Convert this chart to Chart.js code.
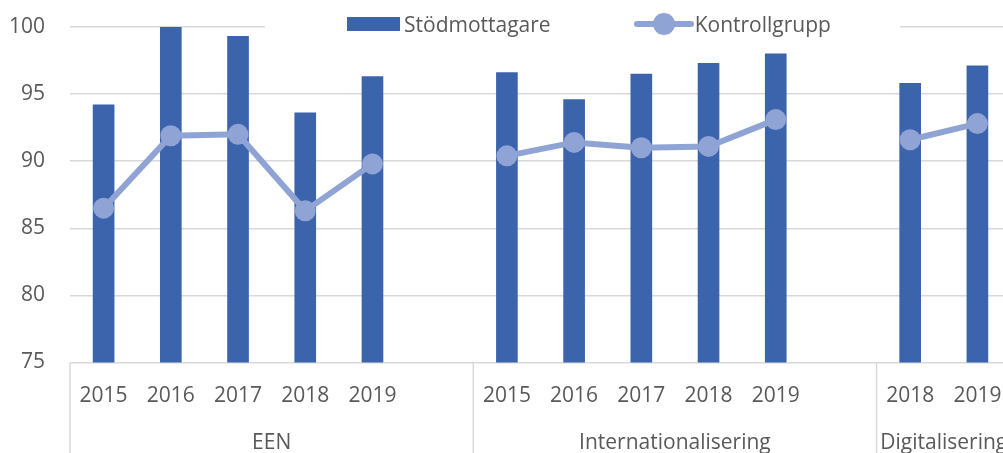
<!DOCTYPE html>
<html>
<head>
<meta charset="utf-8">
<script src="https://cdn.jsdelivr.net/npm/chart.js@4"></script>
<style>
  html, body { margin: 0; padding: 0; overflow: hidden; background: #fff; }
  #wrap { position: relative; width: 1011px; height: 453px; overflow: hidden; }
  #chart { display: block; width: 1011px; height: 453px; }
  #legend {
    position: absolute; left: 265px; top: 11px; width: 635px; height: 26px;
    background: #fff; display: flex; align-items: center; padding-left: 82px;
    box-sizing: border-box; font-family: 'Open Sans', sans-serif; font-size: 21px; color: #595959;
  }
  .item { display: flex; align-items: center; white-space: nowrap; }
  .box { width: 53px; height: 14px; margin-right: 4px; }
  .linekey { position: relative; width: 60px; height: 22px; margin-right: 1px; }
  .linekey .ln { position: absolute; left: 0; right: 0; top: 8px; height: 6px; border-radius: 3px; }
  .linekey .dot { position: absolute; left: 19px; top: 0; width: 22px; height: 22px; border-radius: 50%; }
</style>
</head>
<body>
<div id="wrap">
  <canvas id="chart" width="1011" height="453"></canvas>
  <div id="legend"></div>
</div>
<script>
// categories
const groups = ['EEN', 'Internationalisering', 'Digitalisering'];
const groupSizes = [6, 6, 2]; // number of slots in each group (incl. the empty spacer)
const years = ['2015', '2016', '2017', '2018', '2019', '',
               '2015', '2016', '2017', '2018', '2019', '',
               '2018', '2019'];

// series
const stodmottagare = [94.2, 100.0, 99.3, 93.6, 96.3, null,
                       96.6, 94.6, 96.5, 97.3, 98.0, null,
                       95.8, 97.1];
const kontrollgrupp = [86.5, 91.9, 92.0, 86.3, 89.8, null,
                       90.4, 91.4, 91.0, 91.1, 93.1, null,
                       91.6, 92.8];

const barColor = '#3B64AD';
const lineColor = '#8FA3D4';
const textColor = '#595959';
const gridColor = '#D9D9D9';

Chart.defaults.font.family = "'Open Sans', sans-serif";
Chart.defaults.font.size = 21;
Chart.defaults.color = textColor;

// group edges / centres in category units
const groupEdges = [-0.5];
groupSizes.forEach(n => groupEdges.push(groupEdges[groupEdges.length - 1] + n));
const groupCentres = groups.map((g, i) => (groupEdges[i] + groupEdges[i + 1]) / 2);

// vertical separators between the groups under the axis
const groupDividers = {
  id: 'groupDividers',
  afterDraw(chart) {
    const ctx = chart.ctx;
    const x = chart.scales.x;
    ctx.save();
    ctx.strokeStyle = gridColor;
    ctx.lineWidth = 1.5;
    groupEdges.slice(0, -1).forEach(v => {
      const px = x.getPixelForValue(v);
      ctx.beginPath();
      ctx.moveTo(px, chart.chartArea.bottom);
      ctx.lineTo(px, chart.height);
      ctx.stroke();
    });
    ctx.restore();
  }
};

const noPad = s => { s.paddingLeft = 0; s.paddingRight = 0; s.paddingTop = 0; s.paddingBottom = 0; };

const ctx = document.getElementById('chart').getContext('2d');
const chart = new Chart(ctx, {
  type: 'bar',
  data: {
    labels: years,
    datasets: [{
      type: 'bar',
      label: 'Stödmottagare',
      data: stodmottagare,
      backgroundColor: barColor,
      barThickness: 21,
      order: 1
    }, {
      type: 'line',
      label: 'Kontrollgrupp',
      data: kontrollgrupp,
      borderColor: lineColor,
      backgroundColor: lineColor,
      borderWidth: 6,
      pointRadius: 10.5,
      pointBorderWidth: 0,
      pointBackgroundColor: lineColor,
      spanGaps: false,
      order: 0
    }]
  },
  options: {
    responsive: false,
    animation: false,
    // no auto padding for the big points, the plot runs off the right edge like the original
    layout: { autoPadding: false, padding: { top: 27, left: 0, right: 0, bottom: 0 } },
    plugins: {
      legend: { display: false },
      tooltip: { enabled: false }
    },
    scales: {
      x: {
        type: 'category',
        offset: true,
        // hidden tick marks give the label gap
        grid: { display: false, drawTicks: true, tickLength: 21 },
        border: { display: false },
        ticks: { padding: 0, autoSkip: false, maxRotation: 0 },
        afterFit: s => { s.height = 44; noPad(s); }
      },
      groups: {
        type: 'linear',
        position: 'bottom',
        offset: false,
        min: groupEdges[0],
        max: groupEdges[groupEdges.length - 1],
        grid: { display: false, drawTicks: true, tickLength: 24 },
        border: { display: false },
        afterBuildTicks: s => { s.ticks = groupCentres.map(v => ({ value: v })); },
        ticks: { padding: 0, autoSkip: false, maxRotation: 0, callback: (v, i) => groups[i] },
        afterFit: s => { s.height = 46.5; noPad(s); }
      },
      y: {
        min: 75,
        max: 100,
        ticks: { stepSize: 5, padding: 25 },
        grid: { color: gridColor, lineWidth: 1.5, drawTicks: false },
        border: { display: false },
        afterFit: s => { s.width = 70; noPad(s); }
      }
    }
  },
  plugins: [groupDividers]
});

// html legend built from the datasets
const legendEl = document.getElementById('legend');
chart.data.datasets.forEach((ds, i) => {
  const item = document.createElement('div');
  item.className = 'item';
  if (i === 0) item.style.marginRight = '83px';
  let key;
  if (ds.type === 'line') {
    key = document.createElement('div');
    key.className = 'linekey';
    key.innerHTML = '<div class="ln"></div><div class="dot"></div>';
    key.querySelector('.ln').style.background = ds.borderColor;
    key.querySelector('.dot').style.background = ds.borderColor;
  } else {
    key = document.createElement('div');
    key.className = 'box';
    key.style.background = ds.backgroundColor;
  }
  const txt = document.createElement('span');
  txt.textContent = ds.label;
  item.appendChild(key);
  item.appendChild(txt);
  legendEl.appendChild(item);
});
</script>
</body>
</html>
